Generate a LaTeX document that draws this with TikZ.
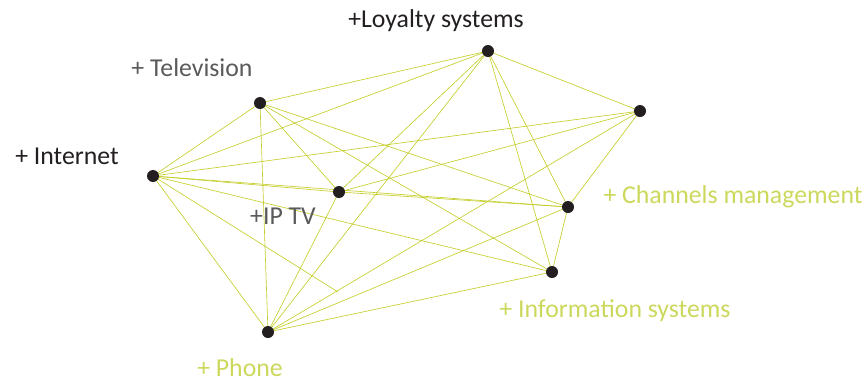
\documentclass[tikz,border=0pt]{standalone}
\usepackage{fontspec}
\setmainfont{Carlito}
\usepackage{tikz}
\usetikzlibrary{positioning}
\definecolor{lime}{RGB}{196,206,42}
\definecolor{limetext}{RGB}{204,216,92}
\definecolor{greytext}{RGB}{90,90,92}
\definecolor{dotblack}{RGB}{35,31,32}
\tikzstyle{link} = [draw=lime, line width=0.55pt]

\begin{document}
\begin{tikzpicture}[
        x=0.03cm, y=-0.03cm,
        dot/.style={circle, fill=dotblack, inner sep=0pt, minimum size=0.36cm},
        lbl/.style={font=\fontsize{22}{24}\selectfont, inner sep=0pt},
        ]
        \useasboundingbox (0,0) rectangle (867,382);

        % points
        \coordinate (loyalty) at (488,51);
        \coordinate (tv) at (260,103);
        \coordinate (internet) at (153,176);
        \coordinate (iptv) at (339,192);
        \coordinate (corner) at (640,111);
        \coordinate (channels) at (568,207);
        \coordinate (info) at (552,272);
        \coordinate (phone) at (268,332);
        \coordinate (stub) at (338,292);

        % links
        \foreach \a/\b in {loyalty/tv, loyalty/internet, loyalty/iptv, loyalty/phone,
                loyalty/corner, loyalty/channels, loyalty/info,
                tv/internet, tv/phone, tv/iptv, tv/channels, tv/info,
                internet/iptv, internet/corner, internet/channels, internet/info, internet/phone,
                iptv/corner, iptv/channels, iptv/phone,
                corner/channels, corner/phone,
                channels/info, channels/phone, info/phone}
            \draw[link] (\a) -- (\b);
        \draw[link] (internet) -- (stub);

        % dots
        \foreach \p in {loyalty, tv, internet, iptv, corner, channels, info, phone}
            \node[dot] (\p_dot) at (\p) {};

        % labels
        \node[lbl, text=dotblack] (loyalty_lbl) at (436,21) {+Loyalty systems};
        \node[lbl, text=greytext] (tv_lbl) at (192,68) {+ Television};
        \node[lbl, text=dotblack] (internet_lbl) at (67,156) {+ Internet};
        \node[lbl, text=greytext] (iptv_lbl) at (283,216) {+IP TV};
        \node[lbl, text=limetext] (channels_lbl) at (733,197) {+ Channels management};
        \node[lbl, text=limetext] (info_lbl) at (615,311) {+ Information systems};
        \node[lbl, text=limetext] (phone_lbl) at (240,368) {+ Phone};

    \end{tikzpicture}
\end{document}
